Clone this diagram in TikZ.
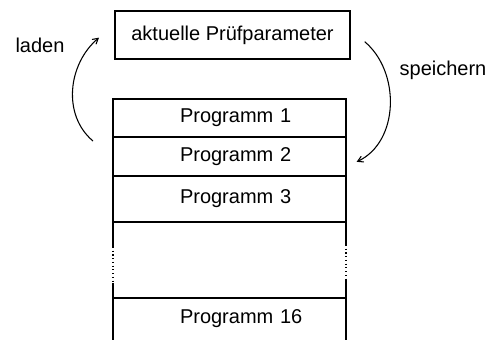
\documentclass[tikz,border=0pt]{standalone}
\usepackage{fontspec}
\setmainfont{Liberation Sans}
\usepackage{tikz}
\usetikzlibrary{positioning, arrows}
\tikzstyle{arrow} = [line width=0.8pt,->,>=angle 60]

\begin{document}
\begin{tikzpicture}[x=0.75pt, y=0.75pt, node distance=0pt,
font=\fontsize{15}{18}\selectfont,
parambox/.style={draw, line width=0.8pt, outer sep=0pt, minimum width=176.25pt, minimum height=36pt},
progbox/.style={draw, line width=0.8pt, outer sep=0pt, inner xsep=0pt, text width=174.75pt, align=left,
  execute at begin node={\hspace*{50.25pt}}},
progspace/.style={progbox, draw=none},
side/.style={line width=0.8pt},]
\useasboundingbox (0,0) rectangle (492,-340);
\node[parambox] (param) at (232.5,-35) {aktuelle Prüfparameter};
\node[progbox, minimum height=28.5pt] (prog1) at (229.5,-118) {Programm 1};
\node[progbox, minimum height=29.25pt, below = of prog1] (prog2) {Programm 2};
\node[progbox, minimum height=34.5pt, below = of prog2] (prog3) {Programm 3};
\node[progspace, minimum height=57pt, below = of prog3] (gap) {};
\node[progspace, minimum height=31.5pt, below = of gap] (prog16) {Programm 16};
% open part of the list
\draw[side] (gap.north west) -- ++(0,-25);
\draw[side, dotted] (gap.north west) ++(0,-25) -- ++(0,-36);
\draw[side] (gap.south west) ++(0,15) -- (prog16.south west);
\draw[side] (gap.north east) -- ++(0,-23);
\draw[side, dotted] (gap.north east) ++(0,-23) -- ++(0,-35);
\draw[side] (gap.south east) ++(0,18) -- (prog16.south east);
\draw[side] (prog16.north west) -- (prog16.north east);
% laden / speichern
\coordinate[below left=3pt and 15pt of prog1.south west] (ladenstart);
\coordinate[below left=2pt and 12pt of param.west] (ladenend);
\coordinate[below right=5pt and 11pt of param.east] (speicherstart);
\coordinate[below right=4pt and 8pt of prog2.east] (speicherend);
\draw[arrow] (ladenstart) to[out=140, in=220] (ladenend);
\draw[arrow] (speicherstart) to[out=-40, in=25] (speicherend);
\node (laden) at (40,-45) {laden};
\node (speichern) at (443,-70) {speichern};
\end{tikzpicture}
\end{document}
